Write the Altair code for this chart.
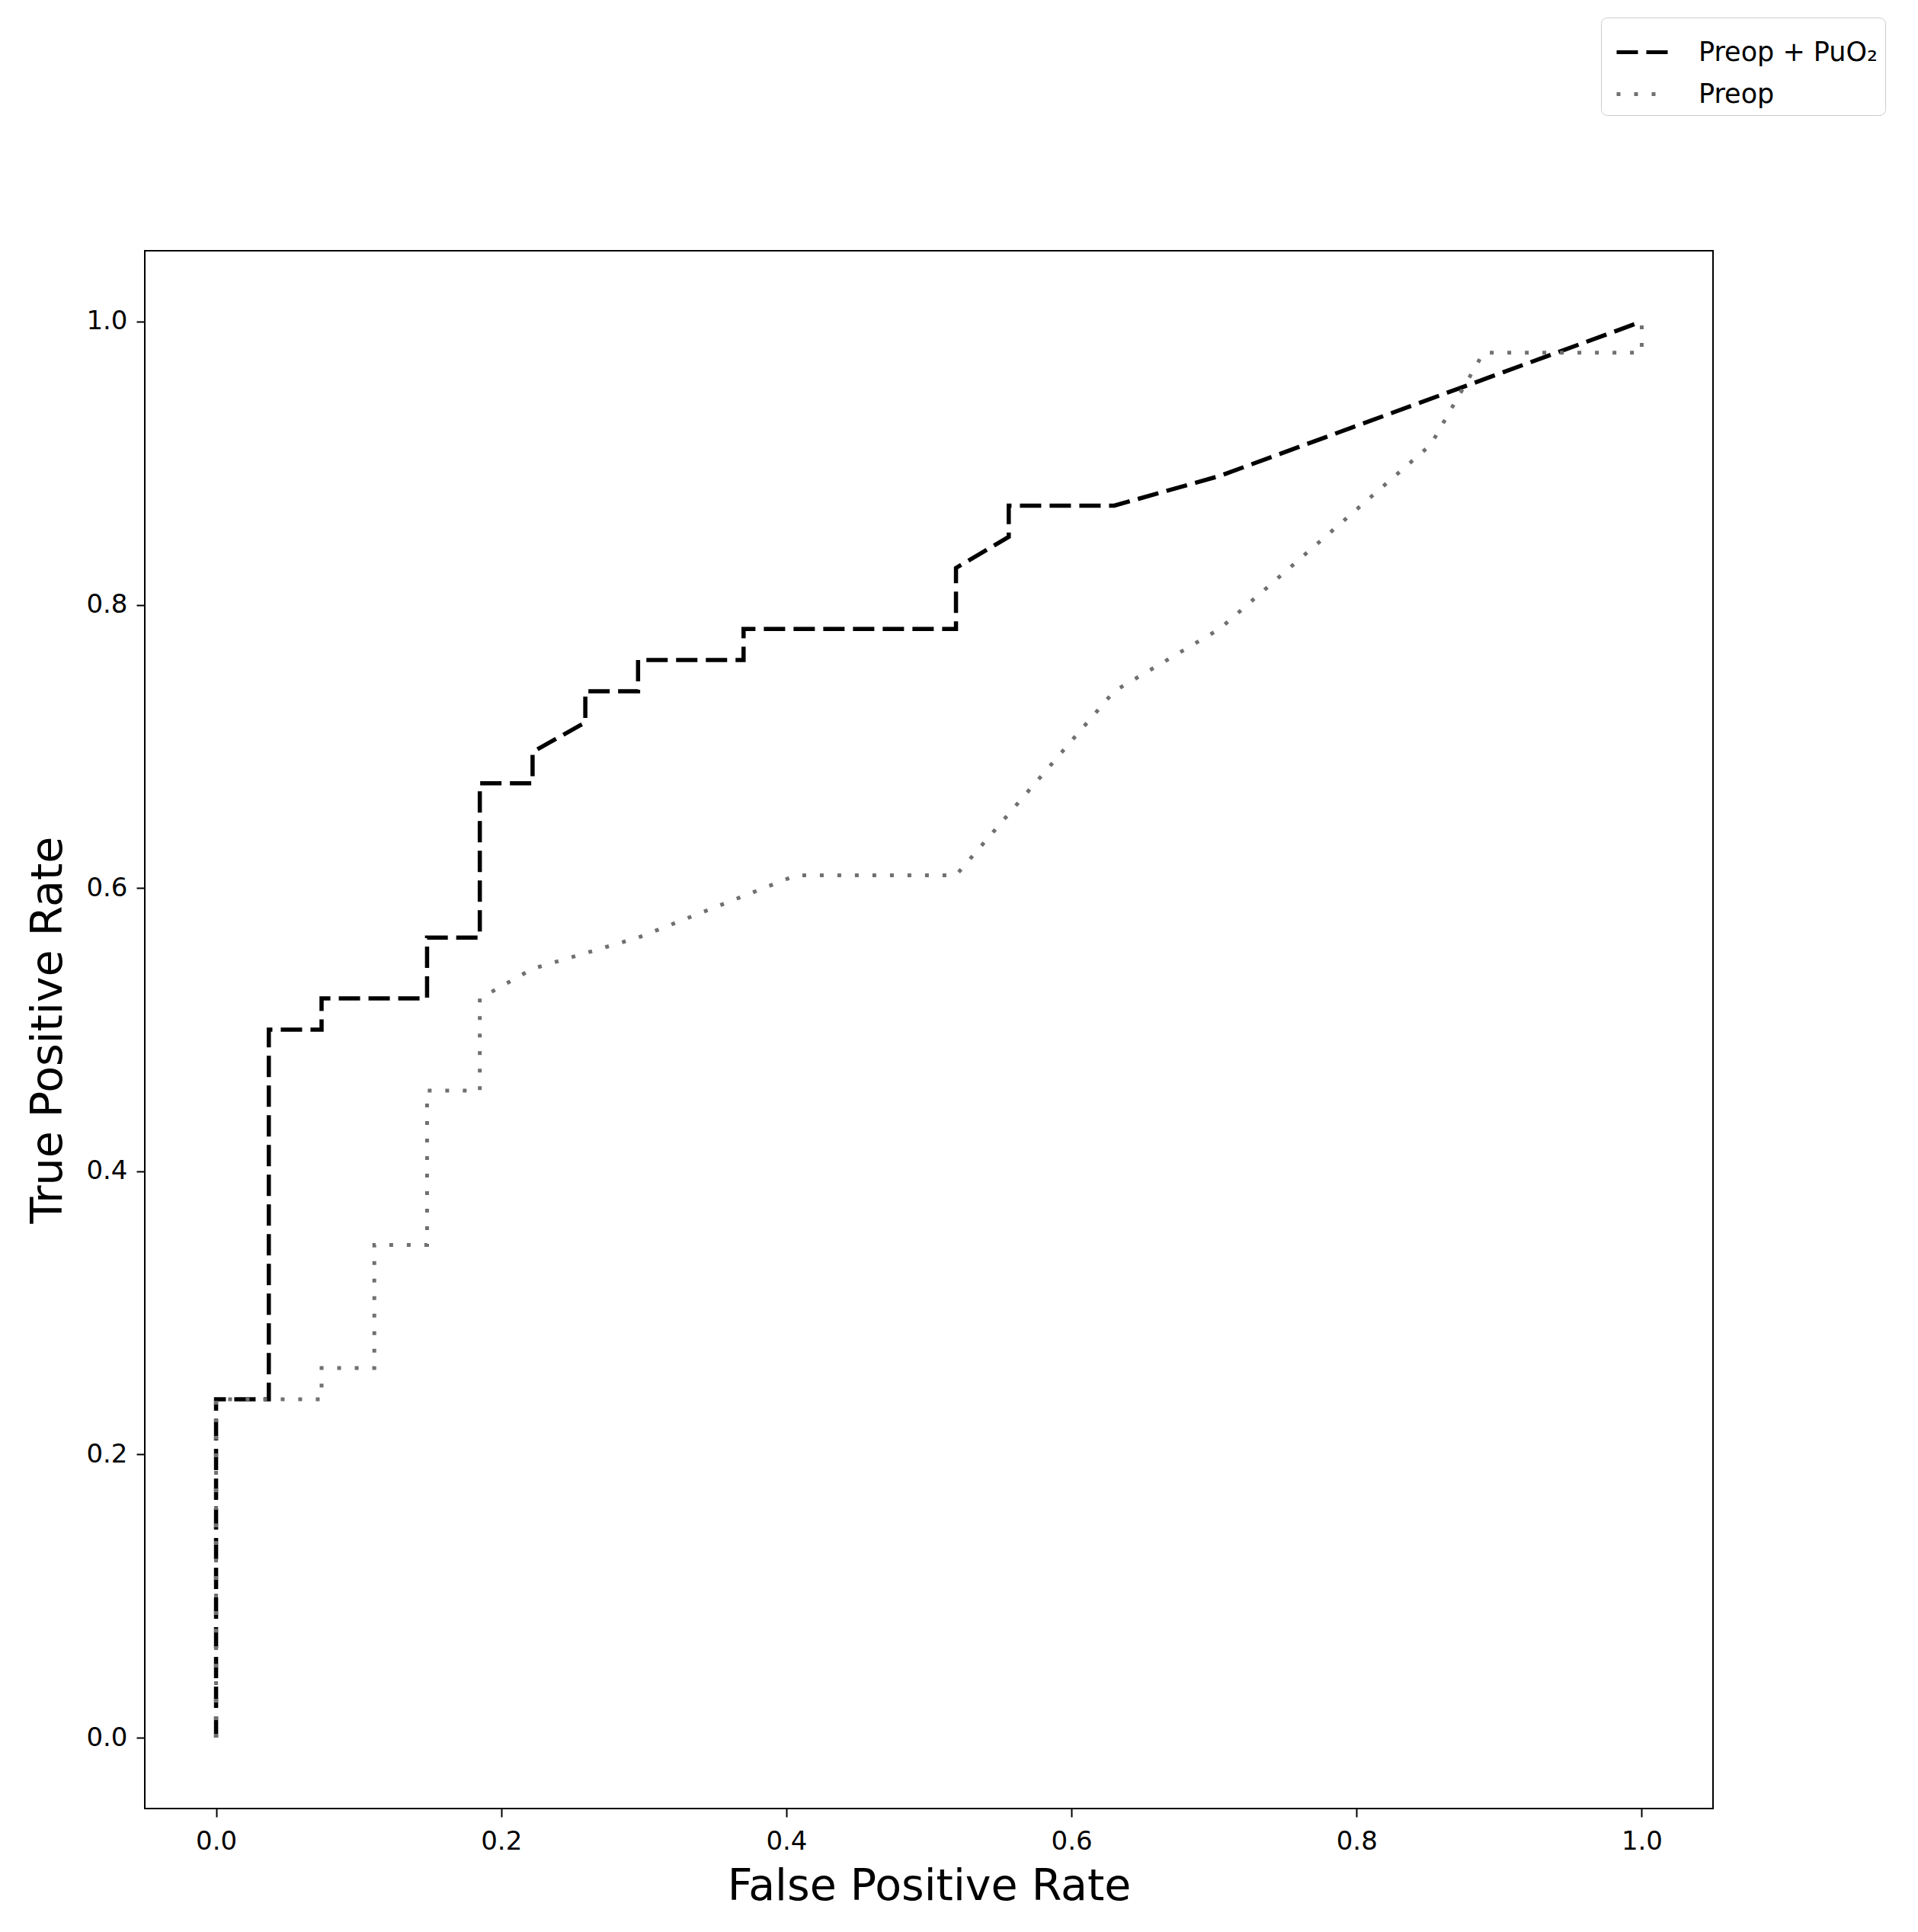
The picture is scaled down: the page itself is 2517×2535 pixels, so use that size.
import altair as alt
import pandas as pd

series_names = ["Preop + PuO₂", "Preop"]

# Preop + PuO2 (dashed black)
combo_fpr = [0.0, 0.0, 0.037, 0.037, 0.074, 0.074, 0.148, 0.148, 0.185, 0.185,
             0.222, 0.222, 0.259, 0.259, 0.296, 0.296, 0.370, 0.370, 0.519, 0.519,
             0.556, 0.556, 0.630, 0.704, 1.0]
combo_tpr = [0.0, 0.239, 0.239, 0.500, 0.500, 0.522, 0.522, 0.565, 0.565, 0.674,
             0.674, 0.696, 0.717, 0.739, 0.739, 0.761, 0.761, 0.783, 0.783, 0.826,
             0.848, 0.870, 0.870, 0.891, 1.0]

# Preop (dotted gray)
preop_fpr = [0.0, 0.0, 0.074, 0.074, 0.111, 0.111, 0.148, 0.148, 0.185, 0.185,
             0.222, 0.296, 0.407, 0.519, 0.630, 0.704, 0.852, 0.889, 1.0, 1.0]
preop_tpr = [0.0, 0.239, 0.239, 0.261, 0.261, 0.348, 0.348, 0.457, 0.457, 0.522,
             0.543, 0.565, 0.609, 0.609, 0.739, 0.783, 0.913, 0.978, 0.978, 1.0]

x_ticks = [0.0, 0.2, 0.4, 0.6, 0.8, 1.0]
y_ticks = [0.0, 0.2, 0.4, 0.6, 0.8, 1.0]

rows = []
for i, (fx, ty) in enumerate(zip(combo_fpr, combo_tpr)):
    rows.append({"series": series_names[0], "fpr": fx, "tpr": ty, "idx": i})
for i, (fx, ty) in enumerate(zip(preop_fpr, preop_tpr)):
    rows.append({"series": series_names[1], "fpr": fx, "tpr": ty, "idx": i})
df = pd.DataFrame(rows)

FONT = "DejaVu Sans"

color_scale = alt.Scale(domain=series_names, range=["#000000", "#707070"])
dash_scale = alt.Scale(domain=series_names, range=[[28, 11], [5, 18]])

legend = alt.Legend(
    title=None, orient="none", legendX=1911, legendY=-306,
    strokeColor="#cccccc", fillColor="white", cornerRadius=8, padding=9,
    symbolType="stroke", symbolSize=4624, symbolStrokeWidth=5, symbolOffset=9,
    labelFontSize=35, labelFont=FONT, labelColor="#000000", labelOffset=37,
    labelLimit=0, rowPadding=0, symbolOpacity=1,
)

x_enc = alt.X(
    "fpr:Q",
    scale=alt.Scale(domain=[-0.05, 1.05], nice=False, zero=False),
    axis=alt.Axis(values=x_ticks, format=".1f", title="False Positive Rate",
                  grid=False, domain=False, tickSize=11, tickWidth=2,
                  tickColor="#000000", labelPadding=15, labelFontSize=34,
                  labelFont=FONT, labelColor="#000000", titleFont=FONT,
                  titleFontSize=57, titleFontWeight="normal", titleColor="#000000",
                  titlePadding=14),
)
y_enc = alt.Y(
    "tpr:Q",
    scale=alt.Scale(domain=[-0.05, 1.05], nice=False, zero=False),
    axis=alt.Axis(values=y_ticks, format=".1f", title="True Positive Rate",
                  grid=False, domain=False, tickSize=11, tickWidth=2,
                  tickColor="#000000", labelPadding=12, labelFontSize=34,
                  labelFont=FONT, labelColor="#000000", titleFont=FONT,
                  titleFontSize=57, titleFontWeight="normal", titleColor="#000000",
                  titlePadding=20),
)

base = alt.Chart(df).encode(
    x=x_enc,
    y=y_enc,
    color=alt.Color("series:N", scale=color_scale, legend=legend),
    strokeDash=alt.StrokeDash("series:N", scale=dash_scale, legend=legend),
    order=alt.Order("idx:Q"),
)

dashed = base.transform_filter(alt.datum.series == series_names[0]).mark_line(strokeWidth=5.5)
dotted = base.transform_filter(alt.datum.series == series_names[1]).mark_line(strokeWidth=5)

chart = alt.layer(dashed, dotted).properties(
    width=2058, height=2044,
    autosize=alt.AutoSizeParams(type="none"),
    padding={"left": 182, "top": 321, "right": 260, "bottom": 160},
    background="white",
).configure_view(stroke="#000000", strokeWidth=2)

chart.save("out.html", embed_options={"renderer": "svg", "actions": False})
